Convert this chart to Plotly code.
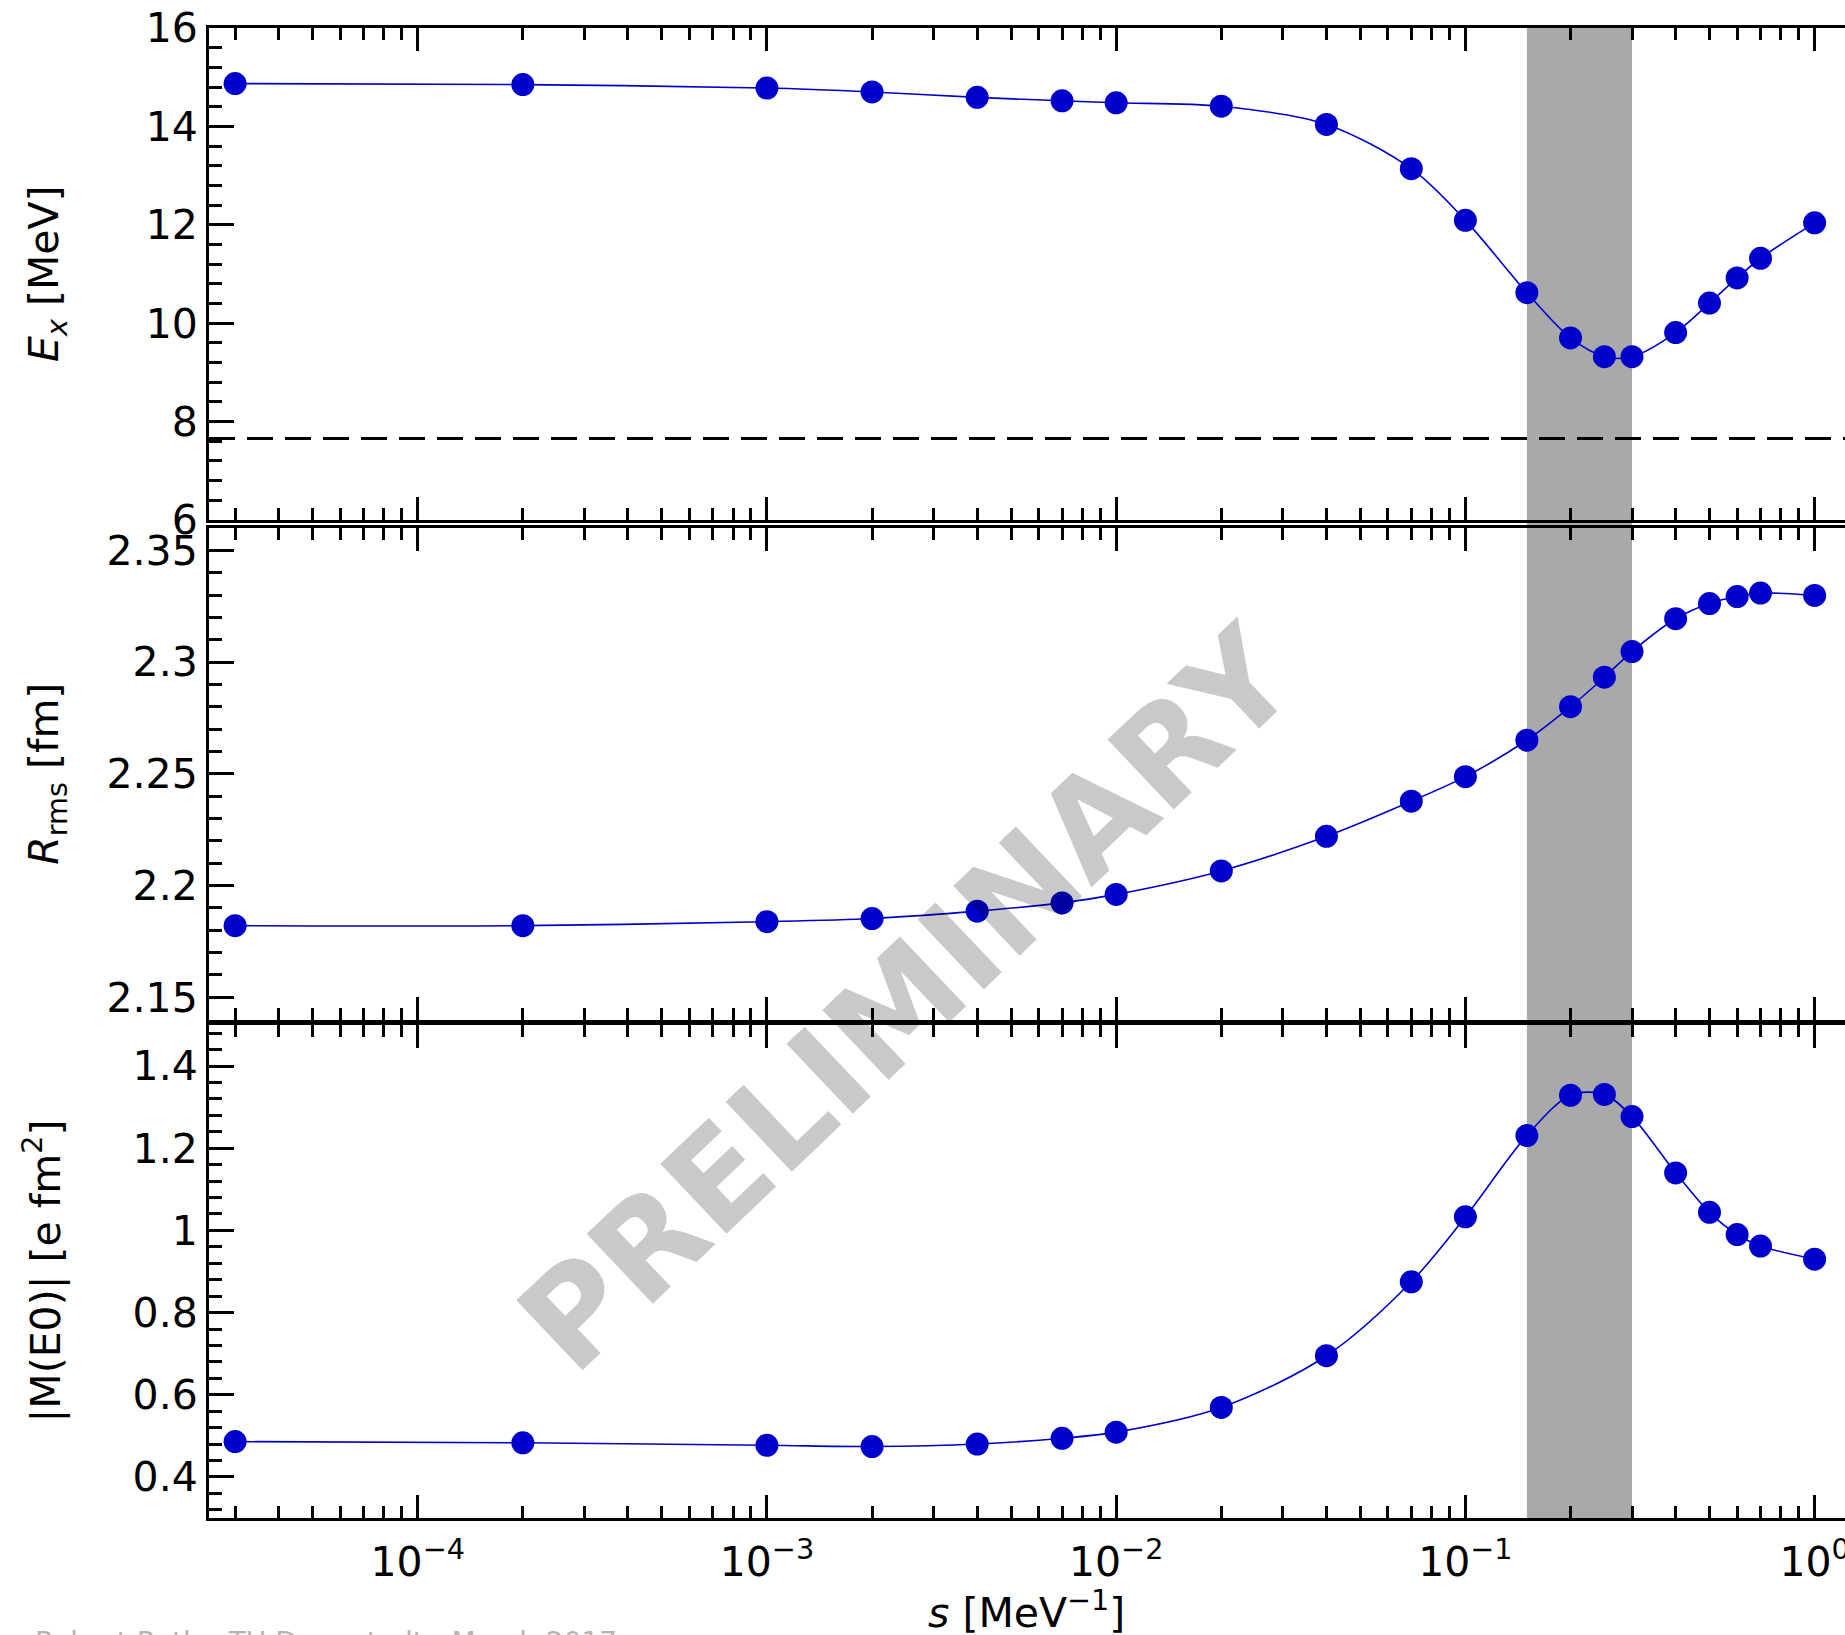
import plotly.graph_objects as go

# ---------------- data ----------------
s_vals = [3e-5, 2e-4, 1e-3, 2e-3, 4e-3, 7e-3, 1e-2, 2e-2, 4e-2, 7e-2,
          0.1, 0.15, 0.2, 0.25, 0.3, 0.4, 0.5, 0.6, 0.7, 1.0]
ex_vals = [14.87, 14.85, 14.78, 14.70, 14.59, 14.52, 14.48, 14.41, 14.04, 13.14,
           12.09, 10.62, 9.70, 9.32, 9.32, 9.81, 10.41, 10.92, 11.32, 12.04]
rrms_vals = [2.182, 2.182, 2.1838, 2.1852, 2.1885, 2.1922, 2.196, 2.2065, 2.222, 2.2377,
             2.2487, 2.265, 2.280, 2.2932, 2.3047, 2.3194, 2.3262, 2.3293, 2.3309, 2.3298]
me0_vals = [0.486, 0.483, 0.477, 0.474, 0.480, 0.494, 0.509, 0.569, 0.695, 0.875,
            1.033, 1.231, 1.329, 1.331, 1.277, 1.140, 1.044, 0.990, 0.962, 0.930]

hoyle_energy = 7.654          # dashed reference line (MeV)
band_range = [0.15, 0.3]      # shaded s-range

x_tickvals = [1e-4, 1e-3, 1e-2, 1e-1, 1.0]
x_ticktext = ["10<sup>\u22124</sup>", "10<sup>\u22123</sup>", "10<sup>\u22122</sup>",
              "10<sup>\u22121</sup>", "10<sup>0</sup>"]
ex_ticks = [6, 8, 10, 12, 14, 16]
rrms_ticks = [2.15, 2.2, 2.25, 2.3, 2.35]
rrms_text = ["2.15", "2.2", "2.25", "2.3", "2.35"]
me0_ticks = [0.4, 0.6, 0.8, 1.0, 1.2, 1.4]
me0_text = ["0.4", "0.6", "0.8", "1", "1.2", "1.4"]

# ---------------- style ----------------
BLUE = "#0000CC"
FONT = "DejaVu Sans"
W, H = 1845, 1635
ML, MR, MT, MB = 209, 0, 28, 117
PH = H - MT - MB


def py(px):
    """pixel row (from top) -> paper y"""
    return (H - MB - px) / PH


def pxx(px):
    return (px - ML) / (W - ML - MR)


fig = go.Figure()

panels = [
    ("x", "y", ex_vals),
    ("x2", "y2", rrms_vals),
    ("x3", "y3", me0_vals),
]
for xa, ya, vals in panels:
    fig.add_trace(go.Scatter(
        x=s_vals, y=vals, xaxis=xa, yaxis=ya, mode="lines+markers",
        line=dict(color=BLUE, width=1.6, shape="spline", smoothing=0.9),
        marker=dict(color=BLUE, size=23, line=dict(width=0)),
        showlegend=False, hoverinfo="skip", cliponaxis=True))

xrange = [-4.5976, 0.087]
tick_common = dict(
    showline=True, linecolor="black", linewidth=3,
    ticks="inside", tickcolor="black", tickwidth=2.5,
    showgrid=False, zeroline=False, automargin=False,
    tickfont=dict(family=FONT, size=41, color="black"),
)

x_common = dict(tick_common, type="log", range=xrange, mirror="ticks",
                tickvals=x_tickvals, ticktext=x_ticktext, ticklen=23,
                minor=dict(ticks="inside", ticklen=12, tickwidth=2.5, tickcolor="black",
                           dtick="D1", showgrid=False))

domains = {
    "y": [py(520), 1.0],
    "y2": [py(1019.5), py(528)],
    "y3": [0.0, py(1025)],
}

y_specs = {
    "y": dict(range=[6, 16], tickvals=ex_ticks, minor_dtick=0.4),
    "y2": dict(range=[2.14, 2.36], tickvals=rrms_ticks, ticktext=rrms_text, minor_dtick=0.01),
    "y3": dict(range=[0.3, 1.5], tickvals=me0_ticks, ticktext=me0_text, minor_dtick=0.04),
}
xname = {"y": "x", "y2": "x2", "y3": "x3"}

layout_axes = {}
for i, (yn, spec) in enumerate(y_specs.items()):
    minor = dict(ticks="inside", ticklen=13, tickwidth=2.5, tickcolor="black",
                 dtick=spec["minor_dtick"], tick0=0, showgrid=False)
    ax = dict(tick_common, anchor=xname[yn], domain=domains[yn], range=spec["range"],
              tickvals=spec["tickvals"], ticklen=25, minor=minor, mirror=False)
    if "ticktext" in spec:
        ax["ticktext"] = spec["ticktext"]
    layout_axes["yaxis" if yn == "y" else "yaxis" + yn[1:]] = ax
    # right-hand ticks (no visible line: the frame runs past the picture edge)
    right = dict(ax, overlaying=yn, side="right", showline=False, showticklabels=False)
    right.pop("domain")
    layout_axes["yaxis%d" % (4 + i)] = right

fig.update_layout(
    width=W, height=H, autosize=False,
    margin=dict(l=ML, r=MR, t=MT, b=MB, pad=0, autoexpand=False),
    paper_bgcolor="white", plot_bgcolor="white",
    font=dict(family=FONT, color="black"),
    xaxis=dict(x_common, anchor="y", showticklabels=False, matches="x3"),
    xaxis2=dict(x_common, anchor="y2", showticklabels=False, matches="x3"),
    xaxis3=dict(x_common, anchor="y3", showticklabels=True, ticklabelstandoff=6,
                ticklabeloverflow="allow"),
    **layout_axes,
)

# shaded band across all panels
fig.add_shape(type="rect", xref="x3", yref="paper", x0=band_range[0], x1=band_range[1],
              y0=0, y1=1, fillcolor="#A9A9A9", line=dict(width=0), layer="below")

# dashed Hoyle-state line in the top panel
fig.add_shape(type="line", xref="x domain", yref="y", x0=0, x1=1,
              y0=hoyle_energy, y1=hoyle_energy,
              line=dict(color="black", width=3, dash="26px,12px"), layer="below")

# axis titles
title_font = dict(family=FONT, size=41, color="black")
fig.add_annotation(text="<i>E<sub>x</sub></i> [MeV]", xref="paper", yref="paper",
                   x=pxx(47), y=(domains["y"][0] + domains["y"][1]) / 2,
                   textangle=-90, showarrow=False, xanchor="center", yanchor="middle",
                   font=title_font)
fig.add_annotation(text="<i>R</i><sub>rms</sub> [fm]", xref="paper", yref="paper",
                   x=pxx(47), y=(domains["y2"][0] + domains["y2"][1]) / 2,
                   textangle=-90, showarrow=False, xanchor="center", yanchor="middle",
                   font=title_font)
fig.add_annotation(text="|M(E0)| [e fm<sup>2</sup>]", xref="paper", yref="paper",
                   x=pxx(42), y=(domains["y3"][0] + domains["y3"][1]) / 2,
                   textangle=-90, showarrow=False, xanchor="center", yanchor="middle",
                   font=title_font)
fig.add_annotation(text="<i>s</i> [MeV<sup>\u22121</sup>]", xref="paper", yref="paper",
                   x=pxx(1026), y=py(1610), showarrow=False, xanchor="center", yanchor="middle",
                   font=title_font)

# watermark
fig.add_annotation(text="<b>PRELIMINARY</b>", xref="paper", yref="paper",
                   x=pxx(907), y=py(999), textangle=-43.5, showarrow=False,
                   xanchor="center", yanchor="middle",
                   font=dict(family=FONT, size=132, color="rgba(0,0,0,0.21)"))

# footer (mostly cut off at the bottom edge)
fig.add_annotation(text="Robert Roth - TU Darmstadt - March 2017", xref="paper", yref="paper",
                   x=pxx(33), y=py(1624), showarrow=False, xanchor="left", yanchor="top",
                   font=dict(family=FONT, size=28, color="#B4B4B4"))

fig.write_html("out.html", config=dict(displayModeBar=False),
               post_script="document.body.style.margin='0';document.body.style.overflow='hidden';")
